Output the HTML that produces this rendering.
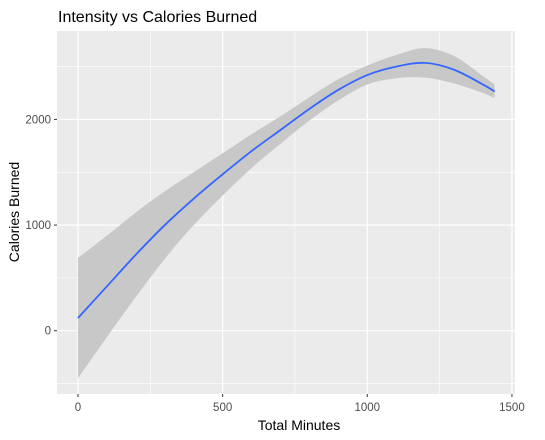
<!DOCTYPE html>
<html><head><meta charset="utf-8"><style>
body{margin:0;background:#fff;}
svg{display:block;font-family:"Liberation Sans",Arial,sans-serif;}
</style></head><body>
<svg id="chart" width="545" height="440">
<rect x="0" y="0" width="545" height="440" fill="#fff"/>
<rect x="57" y="31" width="458" height="363" fill="#EBEBEB"/>
<g id="grid"></g>
<path id="band" fill="#C8C8C8"/>
<path id="line" fill="none" stroke="#3366FF" stroke-width="1.8"/>
<g id="axes"></g>
<text x="58" y="22" font-size="16" fill="#000">Intensity vs Calories Burned</text>
<text x="299" y="430" font-size="14" text-anchor="middle" fill="#000">Total Minutes</text>
<text transform="translate(19,212) rotate(-90)" font-size="14" text-anchor="middle" fill="#000">Calories Burned</text>
</svg>
<script>
const xs=[0,100,200,300,400,500,600,700,800,900,1000,1100,1200,1300,1400,1440];
const fit=[120,420,720,1000,1250,1480,1700,1900,2100,2280,2420,2500,2535,2470,2330,2265];
const se=[570,480,400,320,250,200,160,130,110,100,90,110,140,130,80,65];
const xTicks=[0,500,1000,1500];
const yTicks=[0,1000,2000];
const xMinor=[250,750,1250];
const yMinor=[-500,500,1500,2500];
const sx=v=>78+v*0.2893;
const sy=v=>330.7-v*0.10565;
const NS="http://www.w3.org/2000/svg";
const grid=document.getElementById('grid'),axes=document.getElementById('axes');
function ln(p,x1,y1,x2,y2,c,w){const l=document.createElementNS(NS,'line');l.setAttribute('x1',x1);l.setAttribute('y1',y1);l.setAttribute('x2',x2);l.setAttribute('y2',y2);l.setAttribute('stroke',c);l.setAttribute('stroke-width',w);p.appendChild(l);return l;}
function tx(x,y,s,a){const t=document.createElementNS(NS,'text');t.setAttribute('x',x);t.setAttribute('y',y);t.setAttribute('font-size','11.5');t.setAttribute('fill','#4D4D4D');t.setAttribute('text-anchor',a);t.textContent=s;axes.appendChild(t);return t;}
function smooth(pts){let d='M'+pts[0][0]+','+pts[0][1];for(let i=0;i<pts.length-1;i++){const p0=pts[Math.max(0,i-1)],p1=pts[i],p2=pts[i+1],p3=pts[Math.min(pts.length-1,i+2)];const c1=[p1[0]+(p2[0]-p0[0])/6,p1[1]+(p2[1]-p0[1])/6],c2=[p2[0]-(p3[0]-p1[0])/6,p2[1]-(p3[1]-p1[1])/6];d+='C'+c1+' '+c2+' '+p2;}return d;}
xMinor.forEach(v=>{const l=ln(grid,sx(v),31,sx(v),394,'#fff',0.6);

});
yMinor.forEach(v=>{const l=ln(grid,57,sy(v),515,sy(v),'#fff',0.6);

});
xTicks.forEach(v=>{const l=ln(grid,sx(v),31,sx(v),394,'#fff',1.2);


const k=ln(axes,sx(v),394,sx(v),397,'#333',1);


const t=tx(sx(v),411,v,'middle');

});
yTicks.forEach(v=>{const l=ln(grid,57,sy(v),515,sy(v),'#fff',1.2);


const k=ln(axes,54,sy(v),57,sy(v),'#333',1);


const t=tx(51,sy(v)+4,v,'end');

});
const up=xs.map((x,i)=>[sx(x),sy(fit[i]+se[i])]);
const lo=xs.map((x,i)=>[sx(x),sy(fit[i]-se[i])]).reverse();
const lower=smooth(lo).replace(/^M/,'L');
document.getElementById('band').setAttribute('d',smooth(up)+lower+'Z');
document.getElementById('line').setAttribute('d',smooth(xs.map((x,i)=>[sx(x),sy(fit[i])])));
</script>
</body></html>
